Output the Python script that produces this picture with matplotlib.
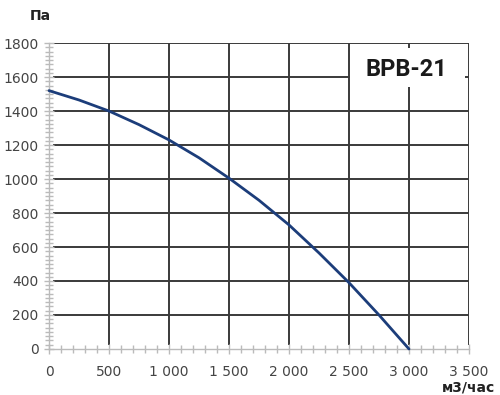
import numpy as np
import matplotlib.pyplot as plt
from matplotlib.patches import Rectangle
from matplotlib.ticker import MultipleLocator, FuncFormatter

# fan curve BPB-21
flow = [0, 250, 500, 750, 1000, 1250, 1500, 1750, 2000, 2250, 2500, 2750, 3000]
pressure = [1520, 1465, 1400, 1320, 1230, 1125, 1005, 875, 730, 565, 390, 200, 0]

x_ticks = [0, 500, 1000, 1500, 2000, 2500, 3000, 3500]
y_ticks = [0, 200, 400, 600, 800, 1000, 1200, 1400, 1600, 1800]
model = 'BPB-21'
x_unit = 'м3/час'
y_unit = 'Па'


def main():
    fig = plt.figure(figsize=(5.0, 3.95), dpi=100)
    ax = fig.add_axes([0.098, 0.1165, 0.84, 0.7745])

    ax.set_xlim(0, 3500)
    ax.set_ylim(0, 1800)

    # grid drawn by hand so it stops short of the axes like the original
    for yv in y_ticks[1:]:
        ax.hlines(yv, 30, 3500, color='#3a3a3a', lw=1.4, zorder=1)
    for xv in x_ticks[1:]:
        ax.vlines(xv, 25, 1800, color='#3a3a3a', lw=1.4, zorder=1)

    ax.plot(flow, pressure, color='#1c3d7a', lw=2.0, zorder=3,
            solid_capstyle='round', clip_on=False)

    # label box top right
    ax.add_patch(Rectangle((0.717, 0.855), 0.274, 0.128, transform=ax.transAxes,
                           facecolor='white', edgecolor='none', zorder=2))
    ax.text(0.852, 0.915, model, transform=ax.transAxes, ha='center', va='center',
            fontsize=17, fontweight='bold', color='#1a1a1a', zorder=4,
            family=['Roboto', 'DejaVu Sans'])

    for s in ['top', 'right']:
        ax.spines[s].set_visible(False)
    for s in ['left', 'bottom']:
        ax.spines[s].set_color('#bbbbbb')
        ax.spines[s].set_linewidth(1.0)

    ax.set_xticks(x_ticks)
    ax.set_yticks(y_ticks)
    ax.xaxis.set_minor_locator(MultipleLocator(100))
    ax.yaxis.set_minor_locator(MultipleLocator(25))
    ax.xaxis.set_major_formatter(FuncFormatter(lambda v, p: f'{int(v):,}'.replace(',', ' ')))
    ax.tick_params(which='both', direction='inout', color='#bbbbbb', width=1.0)
    ax.tick_params(which='major', length=7, labelsize=10, labelcolor='#444444')
    ax.tick_params(which='minor', length=6)
    ax.tick_params(axis='x', pad=8)
    ax.tick_params(axis='y', pad=4)

    fig.text(0.08, 0.96, y_unit, ha='center', va='center', fontsize=10,
             fontweight='bold', color='#222222')
    fig.text(0.99, 0.018, x_unit, ha='right', va='center', fontsize=10,
             fontweight='bold', color='#222222')

    fig.savefig('out.png', dpi=100)


if __name__ == '__main__':
    main()
